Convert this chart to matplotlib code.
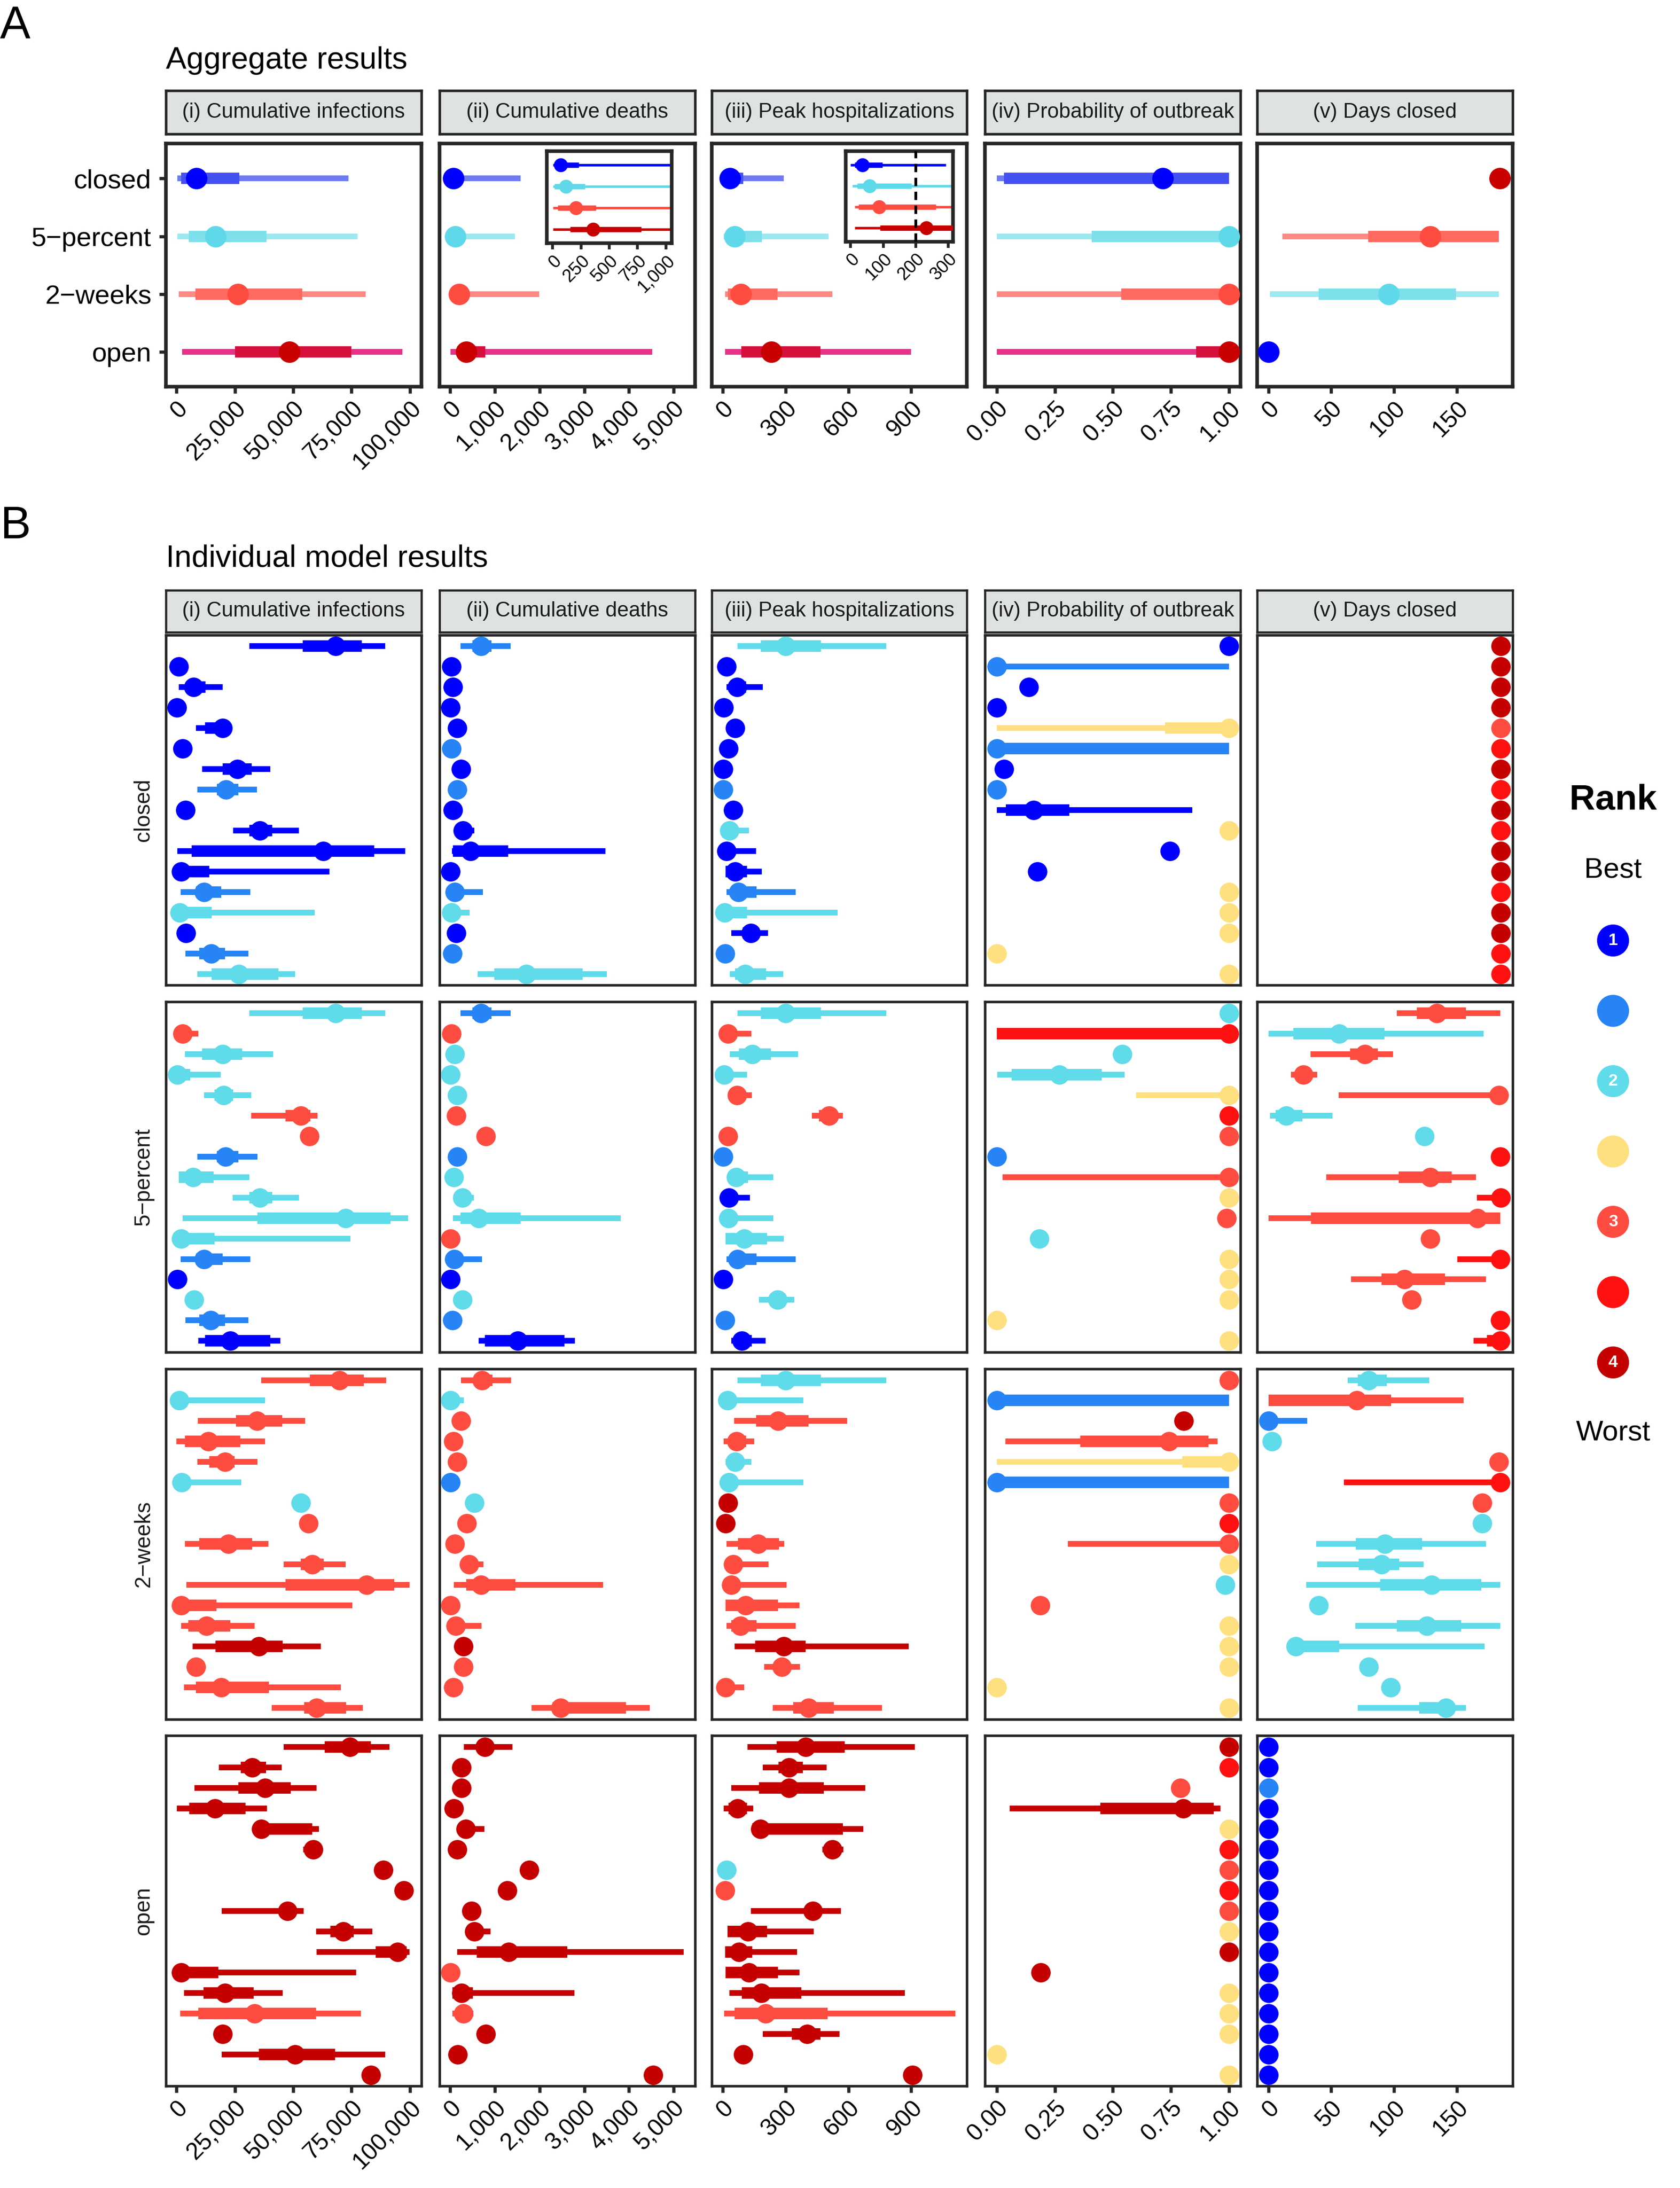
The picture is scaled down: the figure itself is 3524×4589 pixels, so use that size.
import matplotlib
matplotlib.use("Agg")
import matplotlib.pyplot as plt
from matplotlib.ticker import FuncFormatter

plt.rcParams['font.family'] = ['Liberation Sans', 'DejaVu Sans']

RANK_COLORS = {1: '#0000FF', 1.5: '#2684F6', 2: '#5FDBEA', 2.5: '#FFE080',
               3: '#FF4C40', 3.5: '#FF1111', 4: '#C40000'}
LEGEND_RANKS = [1, 1.5, 2, 2.5, 3, 3.5, 4]
LEGEND_NUMS = {1: '1', 2: '2', 3: '3', 4: '4'}

scenarios = ['closed', '5\u2212percent', '2\u2212weeks', 'open']
outcomes = ['(i) Cumulative infections', '(ii) Cumulative deaths',
            '(iii) Peak hospitalizations', '(iv) Probability of outbreak',
            '(v) Days closed']

# ---- panel A: aggregate (median, lo90, hi90, lo50, hi50) per scenario ----
agg_thin = {1: '#6E7BF3', 2: '#9DE9F0', 3: '#FF8A82', 4: '#E8328A'}
agg_thick = {1: '#4450F0', 2: '#7DE0EA', 3: '#FF6A60', 4: '#D5103C'}
agg_dot = {1: '#0000FF', 2: '#5FD9E9', 3: '#FF4C40', 4: '#C80000'}

agg_inf = [(8461, 300, 73654, 2000, 26923), (16730, 385, 77500, 5192, 38461),
           (26346, 1000, 80961, 8077, 53846), (48269, 2500, 96730, 25000, 75000)]
agg_deaths = [(72, 5, 1580, 32, 231), (116, 5, 1450, 16, 283),
              (203, 5, 1990, 44, 382), (355, 5, 4517, 155, 781)]
agg_hosp = [(36, 0, 292, 13, 98), (58, 5, 506, 20, 187),
            (87, 13, 524, 25, 262), (233, 13, 900, 90, 468)]
agg_prob = [(0.716, 0.0, 1.0, 0.032, 1.0), (1.0, 0.0, 1.0, 0.41, 1.0),
            (1.0, 0.0, 1.0, 0.537, 1.0), (1.0, 0.0, 1.0, 0.858, 1.0)]
agg_days = [(184.3,), (129, 11, 183.5, 79.7, 183.5),
            (95.8, 1.3, 183.5, 40, 149.6), (0,)]
agg_ranks = [[1, 2, 3, 4], [1, 2, 3, 4], [1, 2, 3, 4], [1, 2, 3, 4], [4, 3, 2, 1]]

# ---- panel B: per model (rank, median, lo90, hi90, lo50, hi50) ----
inf_closed = [(1, 68180, 31117, 89460, 54000, 79390), (1, 915),
              (1, 7320, 915, 19677, 4347, 12355), (1, 228),
              (1, 19677, 8237, 23795, 12126, 21965), (1, 2517),
              (1, 26083, 10982, 40269, 19677, 32261), (1.5, 21278, 8923, 34549, 17389, 26541),
              (1, 3890), (1, 35693, 24253, 52395, 31117, 40955),
              (1, 62920, 458, 97926, 6406, 84656), (1, 2059, 0, 65437, 0, 13957),
              (1.5, 11898, 1830, 31574, 8237, 19219), (2, 1373, 0, 59259, 0, 15100),
              (1, 4118), (1.5, 14872, 3890, 30888, 9838, 20821),
              (2, 26770, 8923, 50794, 15100, 43700)]
deaths_closed = [(1.5, 692, 227, 1348, 501, 919), (1, 24), (1, 60), (1, 12), (1, 155),
                 (1.5, 24), (1, 239), (1.5, 155), (1, 60), (1, 286, 200, 537),
                 (1, 453, 36, 3472, 60, 1300), (1, 12), (1.5, 107, 50, 728),
                 (2, 24, 0, 430), (1, 131), (1.5, 48), (2, 1706, 620, 3507, 990, 2959)]
hosp_closed = [(2, 302, 71, 780, 183, 470), (1, 18), (1, 69, 20, 191, 41, 112), (1, 5),
               (1, 61), (1, 28), (1, 3), (1.5, 3), (1, 51), (2, 33, 20, 125),
               (1, 18, 10, 160), (1, 61, 15, 188, 15, 117), (1.5, 76, 20, 348, 41, 163),
               (2, 10, 0, 549, 0, 117), (1, 135, 41, 216, 97, 173), (1.5, 13),
               (2, 107, 36, 290, 61, 208)]
prob_closed = [(1, 1.0), (1.5, 0.0, 0.0, 1.0), (1, 0.137), (1, 0.0),
               (2.5, 1.0, 0.0, 1.0, 0.725, 1.0), (1.5, 0.0, 0.0, 1.0, 0.0, 1.0),
               (1, 0.031), (1.5, 0.0), (1, 0.158, 0.0, 0.843, 0.04, 0.313),
               (2.5, 1.0), (1, 0.746), (1, 0.174), (2.5, 1.0), (2.5, 1.0),
               (2.5, 1.0), (2.5, 0.0), (2.5, 1.0)]
days_closed = [(4, 185), (4, 185), (4, 185), (4, 185), (3, 185), (3.5, 185), (4, 185),
               (3.5, 185), (4, 185), (3.5, 185), (4, 185), (4, 185), (3.5, 185),
               (4, 185), (4, 185), (3.5, 185), (3.5, 185)]

inf_5pct = [(2, 68180, 31117, 89460, 54000, 79390), (3, 2517, 500, 9380),
            (2, 19677, 3661, 41413, 10982, 28142), (2, 458, 0, 18990, 0, 5949),
            (2, 20134, 11898, 32032, 16245, 24253), (3, 53310, 32032, 60403, 46675, 57429),
            (3, 56971), (1.5, 21050, 8923, 34778, 17389, 26541),
            (2, 7093, 1000, 31117, 1000, 15787), (2, 35693, 24024, 52395, 31117, 40955),
            (2, 72530, 2517, 99299, 34778, 91749), (2, 2059, 0, 74589, 0, 16245),
            (1.5, 11898, 1830, 31574, 8237, 19677), (1, 458), (2, 7550),
            (1.5, 14643, 3890, 30888, 9838, 20821), (1, 23109, 9380, 44387, 12126, 40269)]
deaths_5pct = [(1.5, 692, 227, 1348, 501, 919), (3, 24), (2, 107), (2, 12), (2, 155),
               (3, 131), (3, 799), (1.5, 155), (2, 84), (2, 274, 200, 525),
               (2, 632, 60, 3818, 227, 1575), (3, 12), (1.5, 95, 50, 716), (1, 12),
               (2, 274), (1.5, 48), (1, 1515, 632, 2792, 775, 2553)]
hosp_5pct = [(2, 302, 71, 780, 183, 470), (3, 25, 10, 137), (2, 142, 36, 361, 79, 231),
             (2, 8, 0, 117), (3, 69, 40, 140), (3, 508, 427, 574, 460, 545), (3, 25),
             (1.5, 3), (2, 64, 30, 241, 30, 122), (1, 31, 20, 130), (2, 28, 15, 241),
             (2, 104, 15, 292, 15, 213), (1.5, 71, 20, 348, 41, 163), (1, 3),
             (2, 262, 173, 343), (1.5, 13), (1, 92, 41, 206, 61, 140)]
prob_5pct = [(2, 1.0), (3.5, 1.0, 0.0, 1.0, 0.0, 1.0), (2, 0.541),
             (2, 0.27, 0.003, 0.551, 0.065, 0.452), (2.5, 1.0, 0.60, 1.0), (3.5, 1.0),
             (3, 1.0), (1.5, 0.0), (3, 1.0, 0.025, 1.0), (2.5, 1.0), (3, 0.99),
             (2, 0.183), (2.5, 1.0), (2.5, 1.0), (2.5, 1.0), (2.5, 0.0), (2.5, 1.0)]
days_5pct = [(3, 134.2, 102.3, 184.6, 118.2, 157.5), (2, 56.4, 0, 171.5, 19.7, 92.6),
             (3, 76.9, 33.6, 99.4, 65, 87.2), (3, 27.9, 18, 39), (3, 183.5, 56, 183.5),
             (2, 14, 1.1, 51, 6, 27), (2, 124.2), (3.5, 184.6),
             (3, 129, 46, 165.5, 104, 146), (3.5, 185, 166, 185),
             (3, 166.7, 0, 184.6, 33.9, 184.6), (3, 129), (3.5, 184.6, 150.4, 184.6),
             (3, 108.3, 66, 173.5, 90, 140.5), (3, 114.2), (3.5, 184.6),
             (3.5, 184.6, 163.5, 184.6, 174, 184.6)]

inf_2wk = [(3, 69782, 36379, 89917, 57200, 80309), (2, 1144, 0, 37981),
           (3, 34549, 9152, 55141, 25397, 45302), (3, 13728, 0, 37981, 3661, 27227),
           (3, 20821, 8923, 34778, 13957, 24939), (2, 2288, 0, 27685), (2, 53310),
           (3, 56514), (3, 22194, 3661, 39354, 9838, 32490),
           (3, 58115, 45990, 72530, 53310, 63149), (3, 81453, 4347, 99757, 46675, 93350),
           (3, 2059, 0, 75275, 0, 17160), (3, 12813, 2059, 33405, 5034, 23109),
           (4, 35235, 6864, 61776, 16702, 45531), (3, 8237),
           (3, 19219, 3203, 70470, 8237, 39583), (3, 59946, 40726, 79851, 54683, 72758)]
deaths_2wk = [(3, 716, 239, 1360, 537, 942), (2, 12, 0, 310), (3, 239), (3, 72), (3, 155),
              (1.5, 12), (2, 537), (3, 370), (3, 107), (3, 418, 300, 740),
              (3, 692, 84, 3424, 358, 1455), (3, 12), (3, 119, 50, 704), (4, 298),
              (3, 298), (3, 72), (3, 2469, 1825, 4462, 2290, 3937)]
hosp_2wk = [(2, 302, 71, 780, 183, 470), (2, 23, 0, 386), (3, 264, 56, 595, 160, 409),
            (3, 66, 5, 150, 41, 112), (2, 61, 15, 137), (2, 31, 0, 386), (4, 25), (4, 15),
            (3, 170, 20, 295, 74, 269), (3, 51, 20, 219), (3, 41, 10, 305),
            (3, 109, 15, 366, 15, 264), (3, 84, 20, 348, 41, 163),
            (4, 292, 58, 887, 155, 397), (3, 282, 198, 369), (3, 15, 0, 104),
            (3, 409, 239, 760, 338, 531)]
prob_2wk = [(3, 1.0), (1.5, 0.0, 0.0, 1.0, 0.0, 1.0), (4, 0.805),
            (3, 0.742, 0.038, 0.952, 0.36, 0.912), (2.5, 1.0, 0.0, 1.0, 0.80, 1.0),
            (1.5, 0.0, 0.0, 1.0, 0.0, 1.0), (3, 1.0), (3.5, 1.0), (3, 1.0, 0.307, 1.0),
            (2.5, 1.0), (2, 0.985), (3, 0.187), (2.5, 1.0), (2.5, 1.0), (2.5, 1.0),
            (2.5, 0.0), (2.5, 1.0)]
days_2wk = [(2, 79.8, 63, 128.2, 71.2, 94.3), (3, 70.4, 0, 155.6, 0, 97.7), (1.5, 0, 0, 31),
            (2, 2.8), (3, 183.5), (3.5, 184.6, 60, 184.6), (3, 170.4), (2, 170.4),
            (2, 92.9, 38.2, 173.5, 69.5, 122.5), (2, 90, 39, 123.4, 72, 104.3),
            (2, 130.2, 30, 184.6, 89.2, 169.5), (2, 39.9),
            (2, 126.2, 69.2, 184.6, 102.3, 153.6), (2, 21.9, 21.9, 172.4, 21.9, 56.4),
            (2, 79.8), (2, 97.2), (2, 141.3, 71.2, 157.5, 120, 147.6)]

inf_open = [(4, 74360, 45990, 91292, 63378, 83283), (4, 32490, 18075, 45073, 27456, 38438),
            (4, 37981, 7779, 59946, 26541, 48963), (4, 16474, 229, 38667, 5491, 29515),
            (4, 36379, 36379, 61090, 36379, 58115), (4, 58573, 54226, 58573),
            (4, 88546), (4, 97469), (4, 47590, 19448, 54454),
            (4, 71386, 59717, 83969, 66000, 76000), (4, 94723, 59946, 99757, 85342, 98613),
            (4, 2059, 0, 76877, 0, 17846), (4, 20821, 3203, 45531, 11669, 32947),
            (3, 33405, 1601, 78936, 9380, 59717), (4, 19677),
            (4, 50794, 19448, 89460, 35235, 67953), (4, 83283)]
deaths_open = [(4, 775, 310, 1396, 620, 960), (4, 250), (4, 250), (4, 84),
               (4, 346, 250, 763), (4, 155), (4, 1766), (4, 1276), (4, 477),
               (4, 537, 400, 907), (4, 1312, 155, 5225, 596, 2625), (3, 12),
               (4, 250, 50, 2780, 50, 513), (3, 298, 50, 516), (4, 799), (4, 167),
               (4, 4545)]
hosp_open = [(4, 397, 119, 918, 257, 582), (4, 318, 191, 496, 267, 382),
             (4, 318, 41, 681, 173, 483), (4, 71, 5, 147, 28, 117),
             (4, 180, 142, 671, 142, 574), (4, 524, 475, 577), (2, 18), (3, 13),
             (4, 430, 135, 564), (4, 122, 23, 435, 23, 213), (4, 79, 13, 356, 13, 142),
             (4, 127, 15, 366, 15, 264), (4, 186, 33, 869, 92, 376),
             (3, 206, 8, 1111, 58, 501), (4, 404, 191, 559, 330, 468), (4, 99), (4, 905)]
prob_open = [(4, 1.0), (3.5, 1.0), (3, 0.79), (4, 0.803, 0.055, 0.963, 0.447, 0.935),
             (2.5, 1.0), (3.5, 1.0), (3, 1.0), (3.5, 1.0), (3, 1.0), (2.5, 1.0), (4, 1.0),
             (4, 0.189), (2.5, 1.0), (2.5, 1.0), (2.5, 1.0), (2.5, 0.0), (2.5, 1.0)]
days_open = [(1, 0), (1, 0), (1.5, 0), (1, 0), (1, 0), (1, 0), (1, 0), (1, 0), (1, 0),
             (1, 0), (1, 0), (1, 0), (1, 0), (1, 0), (1, 0), (1, 0), (1, 0)]

model_rows = [
    [inf_closed, deaths_closed, hosp_closed, prob_closed, days_closed],
    [inf_5pct, deaths_5pct, hosp_5pct, prob_5pct, days_5pct],
    [inf_2wk, deaths_2wk, hosp_2wk, prob_2wk, days_2wk],
    [inf_open, deaths_open, hosp_open, prob_open, days_open],
]
agg_cols = [agg_inf, agg_deaths, agg_hosp, agg_prob, agg_days]


def comma(v, pos):
    return f'{int(round(v)):,}'


def two_dec(v, pos):
    return f'{v:.2f}'


x_ticks = [[0, 25000, 50000, 75000, 100000], [0, 1000, 2000, 3000, 4000, 5000],
           [0, 300, 600, 900], [0, 0.25, 0.5, 0.75, 1.0], [0, 50, 100, 150]]
x_lims = [(-4500, 104900), (-240, 5475), (-52, 1166), (-0.05, 1.05), (-9.0, 194.5)]
x_fmts = [comma, comma, comma, two_dec, comma]

EDGE = '#262626'
STRIP_FILL = '#DEE3E2'
TXT = '#1a1a1a'

fig = plt.figure(figsize=(3524 / 300, 4589 / 300), dpi=300)

col_left = [0.0988, 0.2616, 0.4236, 0.5864, 0.7483]
col_w = 0.1520


def style_frame(ax, lw):
    for s in ax.spines.values():
        s.set_linewidth(lw)
        s.set_color(EDGE)


def add_strip(bottom, height, col, lw):
    sa = fig.add_axes([col_left[col], bottom, col_w, height])
    sa.set_facecolor(STRIP_FILL)
    sa.set_xticks([])
    sa.set_yticks([])
    style_frame(sa, lw)
    sa.text(0.5, 0.5, outcomes[col], ha='center', va='center', fontsize=10.5,
            color=TXT, transform=sa.transAxes)


def set_xaxis(ax, col, labels=True, fs=12, tick_len=3.4, tick_w=1.6):
    ax.set_xlim(*x_lims[col])
    ax.set_xticks(x_ticks[col])
    ax.xaxis.set_major_formatter(FuncFormatter(x_fmts[col]))
    if labels:
        ax.tick_params(axis='x', length=tick_len, width=tick_w, color=EDGE,
                       labelsize=fs, labelcolor='black', pad=2)
        plt.setp(ax.get_xticklabels(), rotation=45, ha='right', va='top',
                 rotation_mode='anchor')
    else:
        ax.tick_params(axis='x', length=0, labelbottom=False)


def draw_interval(ax, y, rec, color, thin_lw, thick_lw, ms, thin_c=None, thick_c=None):
    med = rec[0]
    if len(rec) >= 3:
        ax.plot([rec[1], rec[2]], [y, y], color=thin_c or color, lw=thin_lw,
                solid_capstyle='butt', zorder=2)
    if len(rec) >= 5:
        ax.plot([rec[3], rec[4]], [y, y], color=thick_c or color, lw=thick_lw,
                solid_capstyle='butt', zorder=3)
    ax.plot([med], [y], 'o', color=color, ms=ms, mec='none', zorder=4)


# ---------------- Panel A ----------------
fig.text(0.0, 0.998, 'A', fontsize=23, ha='left', va='top')
fig.text(col_left[0], 0.9687, 'Aggregate results', fontsize=15.5, ha='left',
         va='baseline')

a_bottom, a_h = 0.8233, 0.1110
for c in range(5):
    add_strip(0.9388, 0.0198, c, 1.3)
    ax = fig.add_axes([col_left[c], a_bottom, col_w, a_h])
    style_frame(ax, 1.8)
    for i, rec in enumerate(agg_cols[c]):
        rk = agg_ranks[c][i]
        draw_interval(ax, i + 1, rec, agg_dot[rk], 2.9, 5.7, 10.8,
                      thin_c=agg_thin[rk], thick_c=agg_thick[rk])
    ax.set_ylim(4.6, 0.4)
    set_xaxis(ax, c)
    if c == 0:
        ax.set_yticks(range(1, 5))
        ax.set_yticklabels(scenarios)
        ax.tick_params(axis='y', length=3.4, width=1.6, color=EDGE,
                       labelsize=13.5, labelcolor='black', pad=4)
    else:
        ax.set_yticks([])

    # insets for deaths and hospitalisations
    if c in (1, 2):
        if c == 1:
            ins = ax.inset_axes([0.421, 0.59, 0.488, 0.38])
            ins.set_xlim(-50, 1050)
            ins.set_xticks([0, 250, 500, 750, 1000])
        else:
            ins = ax.inset_axes([0.525, 0.5975, 0.421, 0.372])
            ins.set_xlim(-15, 315)
            ins.set_xticks([0, 100, 200, 300])
            ins.axvline(200, color='black', lw=1.4, ls=(0, (3, 2)), zorder=5)
        style_frame(ins, 1.8)
        for i, rec in enumerate(agg_cols[c]):
            rk = agg_ranks[c][i]
            draw_interval(ins, i + 1, rec, agg_dot[rk], 1.3, 2.7, 7.0)
        ins.set_ylim(4.65, 0.35)
        ins.set_yticks([])
        ins.xaxis.set_major_formatter(FuncFormatter(comma))
        ins.tick_params(axis='x', length=3.0, width=1.4, color=EDGE, labelsize=9,
                        pad=1.5)
        plt.setp(ins.get_xticklabels(), rotation=45, ha='right', va='top',
                 rotation_mode='anchor')

# ---------------- Panel B ----------------
fig.text(0.0, 0.7692, 'B', fontsize=23, ha='left', va='top')
fig.text(col_left[0], 0.7411, 'Individual model results', fontsize=15.5, ha='left',
         va='baseline')

b_bottoms = [0.5497, 0.3820, 0.2143, 0.0466]
b_h = 0.1601
for c in range(5):
    add_strip(0.7111, 0.0191, c, 1.1)

n_models = 17
for r in range(4):
    for c in range(5):
        ax = fig.add_axes([col_left[c], b_bottoms[r], col_w, b_h])
        style_frame(ax, 1.3)
        for k, rec in enumerate(model_rows[r][c]):
            rank = rec[0]
            draw_interval(ax, k + 1, rec[1:], RANK_COLORS[rank], 2.9, 5.8, 9.8)
        ax.set_ylim(n_models + 0.55, 0.45)
        ax.set_yticks([])
        set_xaxis(ax, c, labels=(r == 3))
    fig.text(0.0855, b_bottoms[r] + b_h / 2, scenarios[r], rotation=90, ha='center',
             va='center', fontsize=11, color=TXT)

# ---------------- Legend ----------------
leg = fig.add_axes([0.9203, 0.3291, 0.0797, 0.3214])
leg.set_xlim(-1, 1)
leg.set_ylim(7.5, -2.5)
leg.axis('off')
leg.text(0, -2, 'Rank', fontsize=18, fontweight='bold', ha='center', va='center')
leg.text(0, -1, 'Best', fontsize=14.5, ha='center', va='center')
leg.text(0, 7, 'Worst', fontsize=14.5, ha='center', va='center')
for i, rk in enumerate(LEGEND_RANKS):
    leg.scatter([0], [i], s=260, color=RANK_COLORS[rk], edgecolors='none')
    if rk in LEGEND_NUMS:
        leg.text(0, i, LEGEND_NUMS[rk], color='white', fontsize=8.5,
                 fontweight='bold', ha='center', va='center')

fig.savefig('out.png', dpi=300)
